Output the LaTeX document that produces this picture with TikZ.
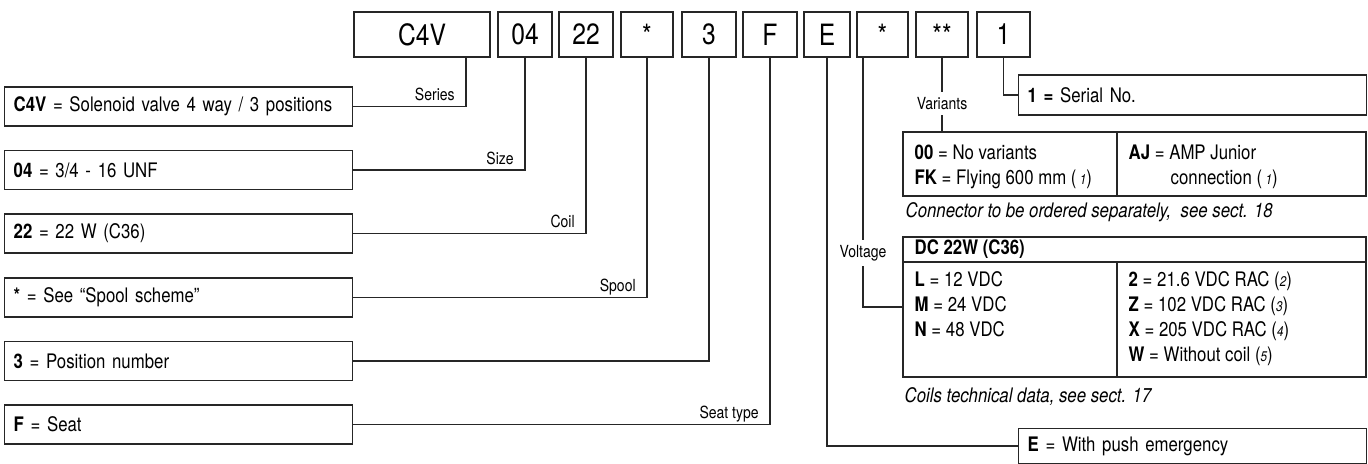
\documentclass[tikz,border=0pt]{standalone}
\usepackage{fontspec}
\setmainfont{TeX Gyre Heros}[FakeStretch=0.84]
\usetikzlibrary{positioning}

\newcommand{\codefont}{\fontsize{22}{25}\selectfont}
\newcommand{\descfont}{\fontsize{15}{18}\selectfont}
\newcommand{\tabfont}{\fontsize{15}{18.6}\selectfont}
\newcommand{\labfont}{\fontsize{12.5}{15}\selectfont}
\newcommand{\fn}[1]{{\fontsize{10.5}{12}\itshape\selectfont #1}}

\tikzset{
  codebox/.style={draw, minimum height=33.75pt, inner sep=0pt, font=\codefont},
  descbox/.style={draw, anchor=west, minimum height=29.25pt, inner xsep=6.75pt,
    inner ysep=0pt, text width=247.5pt, align=left, font=\descfont},
  cell/.style={draw, anchor=north west, inner sep=0pt, outer sep=0pt},
  celltext/.style={anchor=north west, inner sep=0pt, align=left, font=\tabfont},
  lab/.style={font=\labfont, inner sep=0pt, anchor=base east, xshift=-8pt, yshift=4.5pt},
  midlab/.style={font=\labfont, fill=white, inner xsep=1pt, inner ysep=4pt},
  note/.style={anchor=west, inner sep=0pt, font=\tabfont\itshape},
}

\begin{document}
\begin{tikzpicture}[x=0.75pt, y=-0.75pt, line width=1pt, draw=black!85]
\useasboundingbox (0,0) rectangle (1368,464);

% code boxes
\node[codebox, minimum width=102pt] (cC4V) at (422,34.5) {C4V};
\node[codebox, minimum width=40.5pt] (c04) at (525,34.5) {04};
\node[codebox, minimum width=40.5pt] (c22) at (586,34.5) {22};
\node[codebox, minimum width=39pt] (cSpool) at (647,34.5) {*};
\node[codebox, minimum width=40.5pt] (cPos) at (709,34.5) {3};
\node[codebox, minimum width=40.5pt] (cSeat) at (770,34.5) {F};
\node[codebox, minimum width=34.5pt] (cE) at (827,34.5) {E};
\node[codebox, minimum width=38.25pt] (cVolt) at (882.5,34.5) {*};
\node[codebox, minimum width=39pt] (cVar) at (942,34.5) {**};
\node[codebox, minimum width=39.75pt] (cSer) at (1003.5,34.5) {1};

% left column
\node[descbox] (dC4V) at (4,106.5) {\textbf{C4V} = Solenoid valve 4 way / 3 positions};
\node[descbox] (d04) at (4,170) {\textbf{04} = 3/4 - 16 UNF};
\node[descbox] (d22) at (4,233.5) {\textbf{22} = 22 W (C36)};
\node[descbox] (dSpool) at (4,297.5) {\textbf{*} = See “Spool scheme”};
\node[descbox] (dPos) at (4,361) {\textbf{3} = Position number};
\node[descbox] (dSeat) at (4,424.5) {\textbf{F} = Seat};

\draw (dC4V.east) -| node[lab, pos=0.5] {Series} ([xshift=33pt]cC4V.south);
\draw (d04.east) -| node[lab, pos=0.5] {Size} (c04.south);
\draw (d22.east) -| node[lab, pos=0.5] {Coil} (c22.south);
\draw (dSpool.east) -| node[lab, pos=0.5] {Spool} (cSpool.south);
\draw (dPos.east) -| (cPos.south);
\draw (dSeat.east) -| node[lab, pos=0.5] {Seat type} (cSeat.south);

% right column
\node[descbox, minimum height=30pt] (dSer) at (1018,95) {\textbf{1 =} Serial No.};
\draw (cSer.south) |- (dSer.west);

% variants table
\node[cell, minimum width=160.5pt, minimum height=48pt] (tVarL) at (903,132) {};
\node[cell, minimum width=186.75pt, minimum height=48pt] (tVarR) at (tVarL.north east) {};
\node[celltext] at ([xshift=8.25pt, yshift=-9pt]tVarL.north west)
  {\vphantom{(}\textbf{00} = No variants\\\textbf{FK} = Flying 600 mm (\,\fn{1})};
\node[celltext] at ([xshift=8.25pt, yshift=-9pt]tVarR.north west)
  {\vphantom{(}\textbf{AJ} = AMP Junior\\\hspace*{31.5pt}connection (\,\fn{1})};
\draw (cVar.south) -- node[midlab, pos=0.62] {Variants} (cVar.south |- tVarL.north);
\node[note] (nConn) at (905,212) {Connector to be ordered separately, \ see sect. 18};

% voltage table
\node[cell, minimum width=347.25pt, minimum height=18.75pt] (tVH) at (903,237) {};
\node[celltext, anchor=west, font=\tabfont\bfseries] at ([xshift=8.25pt]tVH.west) {DC 22W (C36)};
\node[cell, minimum width=160.5pt, minimum height=86.25pt] (tVL) at (tVH.south west) {};
\node[cell, minimum width=186.75pt, minimum height=86.25pt] (tVR) at (tVL.north east) {};
\node[celltext] at ([xshift=8.25pt, yshift=-6.75pt]tVL.north west)
  {\vphantom{(}\textbf{L} = 12 VDC\\\textbf{M} = 24 VDC\\\textbf{N} = 48 VDC};
\node[celltext] at ([xshift=8.25pt, yshift=-6.75pt]tVR.north west)
  {\vphantom{(}\textbf{2} = 21.6 VDC RAC (\fn{2})\\\textbf{Z} = 102 VDC RAC (\fn{3})\\
   \textbf{X} = 205 VDC RAC (\fn{4})\\\textbf{W} = Without coil (\fn{5})};
\draw ([xshift=-14.6pt]cVolt.south) |- node[midlab, pos=0.392] {Voltage} ([yshift=9.4pt]tVL.west);
\node[note] (nCoil) at (904,397) {Coils technical data, see sect. 17};

% emergency
\node[descbox, minimum height=26.25pt] (dE) at (1018,446) {\textbf{E} = With push emergency};
\draw (cE.south) |- (dE.west);
\end{tikzpicture}
\end{document}
